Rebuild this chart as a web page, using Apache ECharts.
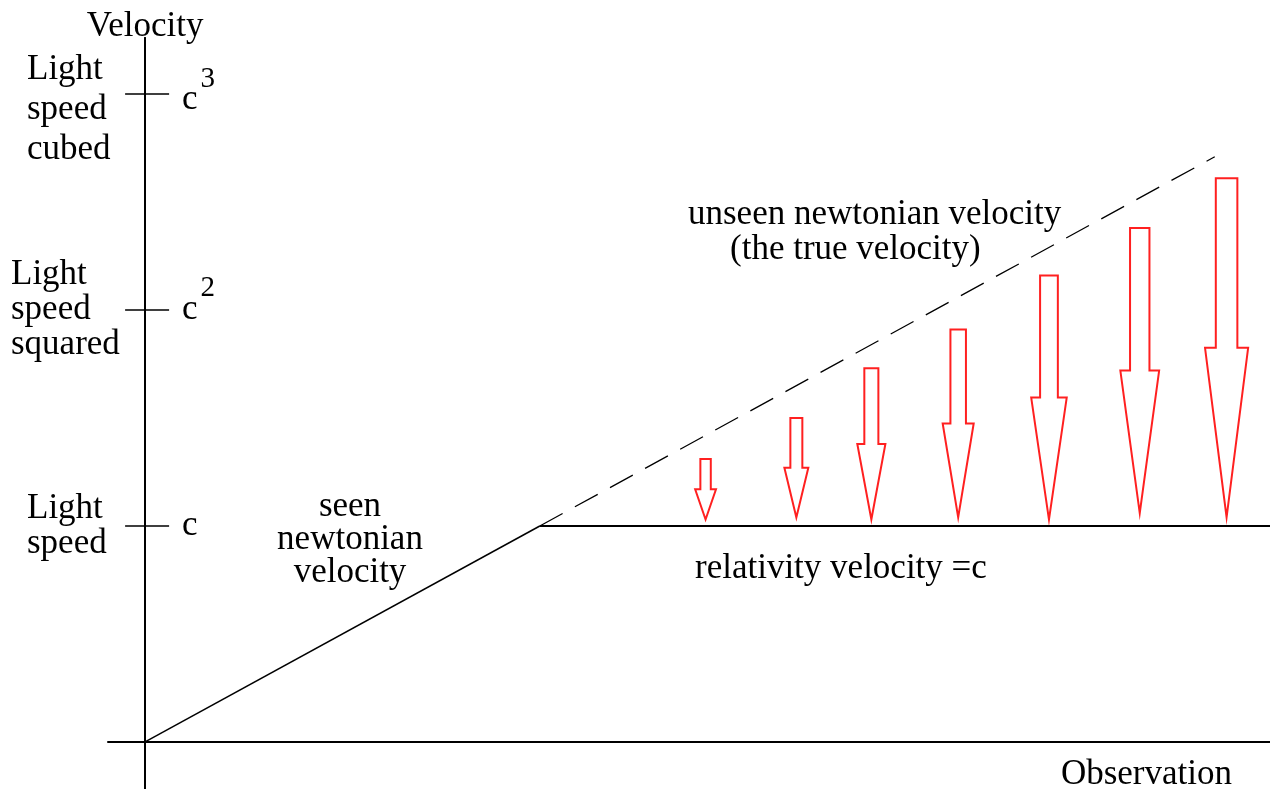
<!DOCTYPE html>
<html lang="en">
<head>
  <meta charset="UTF-8">
  <title>Newtonian vs relativity velocity</title>
  <script src="https://cdn.jsdelivr.net/npm/echarts@6/dist/echarts.min.js"></script>
  <style>
    html, body {
      margin: 0;
      padding: 0;
      background: #fff;
    }
    #chart {
      width: 1270px;
      height: 789px;
    }
  </style>
</head>
<body>
  <div id="chart"></div>

<script>
  // y in units of light speed (c = 1, c^2 = 2, c^3 = 3), x in "observation" units
  const tickValues = [1, 2, 3];
  const powerLabels = ['', '2', '3'];
  const speedLabels = ['Light\nspeed', 'Light\nspeed\nsquared', 'Light\nspeed\ncubed'];

  const seenX = [0, 1];
  const seenY = [0, 1];
  const relativityX = [1, 2.85];
  const relativityY = [1, 1];
  const trueX = [1, 2.71];
  const trueY = [1, 2.71];

  // red arrows: position, top (true velocity), tip
  const arrowX = [1.42, 1.65, 1.84, 2.06, 2.29, 2.52, 2.74];
  const arrowTop = [1.31, 1.50, 1.73, 1.91, 2.16, 2.38, 2.61];
  const arrowTip = [1.03, 1.04, 1.03, 1.04, 1.03, 1.06, 1.04];

  const FONT = '"Liberation Serif", "Times New Roman", serif';
  const INK = '#000';
  const RED = '#ff2020';

  function pairs(xs, ys) {
    return xs.map((x, i) => [x, ys[i]]);
  }

  function powerLabel(value) {
    const i = tickValues.indexOf(Math.round(value));
    if (i < 0) return '';
    if (i === 0) return '{c|c}';
    if (i === 2) return '{c3|c}{s3|' + powerLabels[i] + '}';
    return '{c|c}{s|' + powerLabels[i] + '}';
  }

  function speedLabel(value) {
    const i = tickValues.indexOf(Math.round(value));
    if (i < 0) return '';
    const lines = speedLabels[i].split('\n');
    if (i === 2) return '{sp| }\n' + lines.map((l) => '{d|' + l + '}').join('\n');
    if (i === 1) return lines.map((l) => '{b|' + l + '}').join('\n');
    return lines.map((l) => '{a|' + l + '}').join('\n');
  }

  function renderArrow(params, api) {
    const top = api.coord([api.value(0), api.value(1)]);
    const tip = api.coord([api.value(0), api.value(2)]);
    const cx = top[0];
    const len = tip[1] - top[1];
    const sw = (8 + len * 0.04) / 2;
    const hw = sw * 2;
    const headY = top[1] + len * 0.5;
    return {
      type: 'polygon',
      shape: {
        points: [
          [cx - sw, top[1]], [cx + sw, top[1]], [cx + sw, headY], [cx + hw, headY],
          [cx, tip[1]], [cx - hw, headY], [cx - sw, headY]
        ]
      },
      style: { fill: 'none', stroke: RED, lineWidth: 2 }
    };
  }

  function loadChart() {
    const chart = echarts.init(document.getElementById('chart'));
    const yRange = { min: -0.218, max: 3.26 };
    const option = {
      backgroundColor: '#fff',
      animation: false,
      grid: { left: 108, right: 0, top: 38, bottom: 0, containLabel: false, outerBoundsMode: 'none' },
      xAxis: {
        type: 'value',
        min: -0.094,
        max: 2.85,
        name: 'Observation',
        nameLocation: 'end',
        nameGap: -38,
        nameTextStyle: {
          fontFamily: FONT, fontSize: 35, color: INK,
          align: 'right', verticalAlign: 'top', padding: [15, 0, 0, 0]
        },
        axisLine: { onZero: true, lineStyle: { color: INK, width: 2 } },
        axisTick: { show: false },
        axisLabel: { show: false },
        splitLine: { show: false }
      },
      yAxis: [
        {
          type: 'value',
          min: yRange.min,
          max: yRange.max,
          position: 'left',
          name: 'Velocity',
          nameLocation: 'end',
          nameGap: -6,
          nameTextStyle: { fontFamily: FONT, fontSize: 35, color: INK },
          axisLine: { onZero: true, onZeroAxisIndex: 0, lineStyle: { color: INK, width: 2 } },
          axisTick: { inside: true, length: 24, customValues: tickValues, lineStyle: { color: INK, width: 1.5 } },
          axisLabel: {
            inside: true,
            margin: 74,
            align: 'left',
            customValues: tickValues,
            formatter: powerLabel,
            rich: {
              c: { fontFamily: FONT, fontSize: 35, color: INK },
              s: { fontFamily: FONT, fontSize: 29, color: INK, padding: [0, 0, 44, 3] },
              c3: { fontFamily: FONT, fontSize: 35, color: INK, padding: [12, 0, 0, 0] },
              s3: { fontFamily: FONT, fontSize: 29, color: INK, padding: [0, 0, 30, 3] }
            }
          },
          splitLine: { show: false }
        },
        {
          type: 'value',
          min: yRange.min,
          max: yRange.max,
          position: 'left',
          axisLine: { onZero: true, onZeroAxisIndex: 0, lineStyle: { color: INK, width: 2 } },
          axisTick: { inside: false, length: 20, customValues: tickValues, lineStyle: { color: INK, width: 1.5 } },
          axisLabel: {
            margin: 97,
            align: 'left',
            customValues: tickValues,
            formatter: speedLabel,
            rich: {
              a: { fontFamily: FONT, fontSize: 35, color: INK, lineHeight: 35, padding: [0, 0, 0, 16] },
              b: { fontFamily: FONT, fontSize: 35, color: INK, lineHeight: 35 },
              d: { fontFamily: FONT, fontSize: 35, color: INK, lineHeight: 40, padding: [0, 0, 0, 16] },
              sp: { fontFamily: FONT, fontSize: 35, color: INK, lineHeight: 32 }
            }
          },
          splitLine: { show: false }
        }
      ],
      series: [
        {
          name: 'seen newtonian velocity',
          type: 'line',
          data: pairs(seenX, seenY),
          symbol: 'none',
          lineStyle: { color: INK, width: 1.5 }
        },
        {
          name: 'relativity velocity',
          type: 'line',
          data: pairs(relativityX, relativityY),
          symbol: 'none',
          lineStyle: { color: INK, width: 2 }
        },
        {
          name: 'unseen newtonian velocity',
          type: 'line',
          data: pairs(trueX, trueY),
          symbol: 'none',
          lineStyle: { color: INK, width: 1.3, type: [26, 14] }
        },
        {
          name: 'correction',
          type: 'custom',
          renderItem: renderArrow,
          data: arrowX.map((x, i) => [x, arrowTop[i], arrowTip[i]])
        }
      ],
      graphic: [
        {
          type: 'text', x: 350, y: 540,
          style: { text: 'seen\nnewtonian\nvelocity', font: '35px ' + FONT, fill: INK, align: 'center', verticalAlign: 'middle', lineHeight: 33 }
        },
        {
          type: 'text', x: 688, y: 215,
          style: { text: 'unseen newtonian velocity', font: '35px ' + FONT, fill: INK, align: 'left', verticalAlign: 'middle' }
        },
        {
          type: 'text', x: 730, y: 250,
          style: { text: '(the true velocity)', font: '35px ' + FONT, fill: INK, align: 'left', verticalAlign: 'middle' }
        },
        {
          type: 'text', x: 695, y: 569,
          style: { text: 'relativity velocity =c', font: '35px ' + FONT, fill: INK, align: 'left', verticalAlign: 'middle' }
        }
      ]
    };
    chart.setOption(option);
  }

  loadChart();
</script>
</body>
</html>
